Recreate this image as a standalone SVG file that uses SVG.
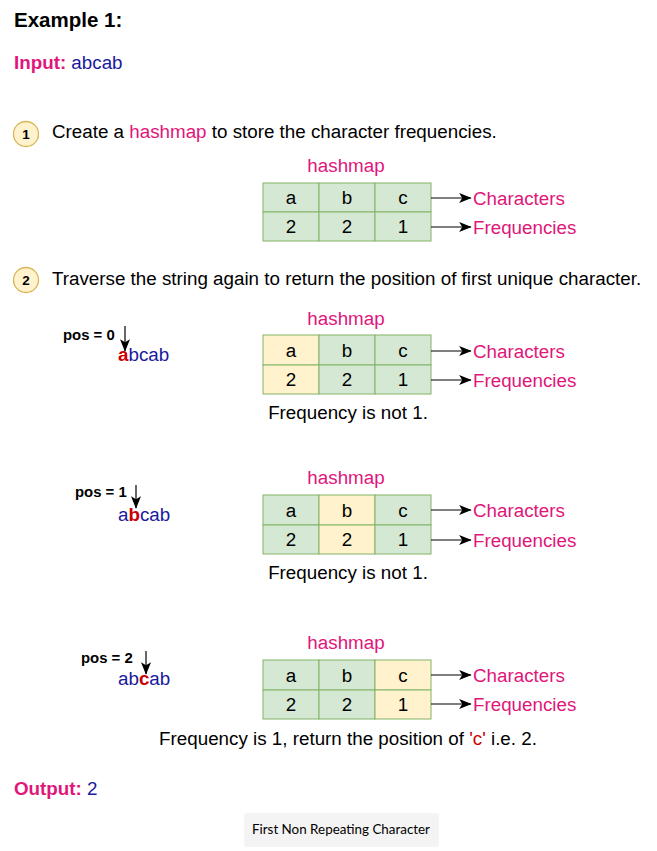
<svg xmlns="http://www.w3.org/2000/svg" width="657" height="851" viewBox="0 0 657 851">
<style>
text{font-family:"Liberation Sans",Arial,sans-serif;fill:#000}
.t{font-size:18.8px}
.b{font-weight:bold}
.pk{fill:#e0167a}
.bl{fill:#1a1a9e}
.rd{fill:#cc0000;font-weight:bold}
.g{fill:#d5e8d4;stroke:#82b366;stroke-width:1}
.y{fill:#fff2cc;stroke:#82b366;stroke-width:1}
.c{font-size:18.8px;text-anchor:middle}
.ln{stroke:#000;stroke-width:1.2;fill:none}
.pos{font-size:14.9px;font-weight:bold}
</style>
<defs>
<marker id="ah" viewBox="0 0 10 10" refX="9.5" refY="5" markerWidth="12.5" markerHeight="12.5" orient="auto" markerUnits="userSpaceOnUse">
<path d="M0,1 L10,5 L0,9 L2.5,5 z" fill="#000"/>
</marker>
</defs>
<rect width="657" height="851" fill="#fff"/>

<g id="header">
<text x="14" y="27" class="b" font-size="20.5">Example 1:</text>
<text x="14" y="69" class="t"><tspan class="b pk">Input:</tspan><tspan class="bl"> abcab</tspan></text>
</g>

<g id="step1">
<circle cx="26" cy="134" r="12.5" fill="#fff2cc" stroke="#d6b656" stroke-width="1.3"/>
<text x="26" y="139" class="b" font-size="13.5" text-anchor="middle">1</text>
<text x="52" y="138" class="t">Create a <tspan class="pk">hashmap</tspan> to store the character frequencies.</text>
</g>

<g id="table1">
<text x="346" y="172" class="c pk">hashmap</text>
<rect x="263" y="183" width="56" height="29" class="g"/>
<rect x="319" y="183" width="56" height="29" class="g"/>
<rect x="375" y="183" width="56" height="29" class="g"/>
<rect x="263" y="212" width="56" height="29" class="g"/>
<rect x="319" y="212" width="56" height="29" class="g"/>
<rect x="375" y="212" width="56" height="29" class="g"/>
<text x="291" y="204" class="c">a</text><text x="347" y="204" class="c">b</text><text x="403" y="204" class="c">c</text>
<text x="291" y="233" class="c">2</text><text x="347" y="233" class="c">2</text><text x="403" y="233" class="c">1</text>
<text x="473" y="205" class="t pk">Characters</text>
<text x="473" y="234" class="t pk">Frequencies</text>
</g>

<g id="step2">
<circle cx="26" cy="280" r="12.5" fill="#fff2cc" stroke="#d6b656" stroke-width="1.3"/>
<text x="26" y="285" class="b" font-size="13.5" text-anchor="middle">2</text>
<text x="52" y="285" class="t">Traverse the string again to return the position of first unique character.</text>
</g>

<g id="pos0">
<text x="63" y="340" class="pos">pos = 0</text>
<text x="118" y="361" class="t"><tspan class="rd">a</tspan><tspan class="bl">bcab</tspan></text>
</g>
<g id="table2">
<text x="346" y="325" class="c pk">hashmap</text>
<rect x="263" y="335" width="56" height="30" class="y"/>
<rect x="319" y="335" width="56" height="30" class="g"/>
<rect x="375" y="335" width="56" height="30" class="g"/>
<rect x="263" y="365" width="56" height="29" class="y"/>
<rect x="319" y="365" width="56" height="29" class="g"/>
<rect x="375" y="365" width="56" height="29" class="g"/>
<text x="291" y="357" class="c">a</text><text x="347" y="357" class="c">b</text><text x="403" y="357" class="c">c</text>
<text x="291" y="386" class="c">2</text><text x="347" y="386" class="c">2</text><text x="403" y="386" class="c">1</text>
<text x="473" y="358" class="t pk">Characters</text>
<text x="473" y="387" class="t pk">Frequencies</text>
<text x="348" y="419" class="c">Frequency is not 1.</text>
</g>

<g id="pos1">
<text x="75" y="497" class="pos">pos = 1</text>
<text x="118" y="521" class="t"><tspan class="bl">a</tspan><tspan class="rd">b</tspan><tspan class="bl">cab</tspan></text>
</g>
<g id="table3">
<text x="346" y="484" class="c pk">hashmap</text>
<rect x="263" y="495" width="56" height="30" class="g"/>
<rect x="319" y="495" width="56" height="30" class="y"/>
<rect x="375" y="495" width="56" height="30" class="g"/>
<rect x="263" y="525" width="56" height="29" class="g"/>
<rect x="319" y="525" width="56" height="29" class="y"/>
<rect x="375" y="525" width="56" height="29" class="g"/>
<text x="291" y="517" class="c">a</text><text x="347" y="517" class="c">b</text><text x="403" y="517" class="c">c</text>
<text x="291" y="546" class="c">2</text><text x="347" y="546" class="c">2</text><text x="403" y="546" class="c">1</text>
<text x="473" y="517" class="t pk">Characters</text>
<text x="473" y="547" class="t pk">Frequencies</text>
<text x="348" y="579" class="c">Frequency is not 1.</text>
</g>

<g id="pos2">
<text x="81" y="663" class="pos">pos = 2</text>
<text x="118" y="685" class="t"><tspan class="bl">ab</tspan><tspan class="rd">c</tspan><tspan class="bl">ab</tspan></text>
</g>
<g id="table4">
<text x="346" y="649" class="c pk">hashmap</text>
<rect x="263" y="660" width="56" height="30" class="g"/>
<rect x="319" y="660" width="56" height="30" class="g"/>
<rect x="375" y="660" width="56" height="30" class="y"/>
<rect x="263" y="690" width="56" height="29" class="g"/>
<rect x="319" y="690" width="56" height="29" class="g"/>
<rect x="375" y="690" width="56" height="29" class="y"/>
<text x="291" y="682" class="c">a</text><text x="347" y="682" class="c">b</text><text x="403" y="682" class="c">c</text>
<text x="291" y="711" class="c">2</text><text x="347" y="711" class="c">2</text><text x="403" y="711" class="c">1</text>
<text x="473" y="682" class="t pk">Characters</text>
<text x="473" y="711" class="t pk">Frequencies</text>
<text x="348" y="745" class="c">Frequency is 1, return the position of <tspan fill="#cc0000">'c'</tspan> i.e. 2.</text>
</g>

<g id="connectors">
<line x1="431" y1="198" x2="471" y2="198" class="ln" marker-end="url(#ah)"/>
<line x1="431" y1="227" x2="471" y2="227" class="ln" marker-end="url(#ah)"/>
<line x1="431" y1="351" x2="471" y2="351" class="ln" marker-end="url(#ah)"/>
<line x1="431" y1="380" x2="471" y2="380" class="ln" marker-end="url(#ah)"/>
<line x1="431" y1="510" x2="471" y2="510" class="ln" marker-end="url(#ah)"/>
<line x1="431" y1="540" x2="471" y2="540" class="ln" marker-end="url(#ah)"/>
<line x1="431" y1="675" x2="471" y2="675" class="ln" marker-end="url(#ah)"/>
<line x1="431" y1="704" x2="471" y2="704" class="ln" marker-end="url(#ah)"/>
<line x1="125" y1="326" x2="125" y2="351" class="ln" marker-end="url(#ah)"/>
<line x1="136" y1="485" x2="136" y2="508" class="ln" marker-end="url(#ah)"/>
<line x1="146" y1="651" x2="146" y2="674" class="ln" marker-end="url(#ah)"/>
</g>

<g id="output">
<text x="14" y="795" class="t"><tspan class="b pk">Output:</tspan><tspan class="bl"> 2</tspan></text>
</g>

<g id="caption">
<rect x="244" y="813" width="195" height="34" rx="3" fill="#f4f4f4"/>
<text x="341" y="834" font-size="13.4" text-anchor="middle" fill="#222" style="font-family:Lato,'Noto Sans',sans-serif">First Non Repeating Character</text>
</g>
</svg>
